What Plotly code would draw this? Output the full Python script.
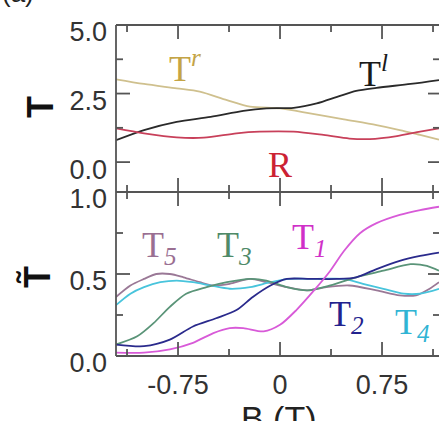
import plotly.graph_objects as go

# ---- data ----
B_top = [-1.206, -1.0, -0.76, -0.59, -0.39, -0.22, 0.0, 0.22, 0.47, 0.71, 0.88, 1.03, 1.169]
T_r = [3.02, 2.85, 2.69, 2.57, 2.26, 2.02, 1.96, 1.78, 1.56, 1.35, 1.17, 0.99, 0.82]
B_l = [-1.206, -1.0, -0.76, -0.51, -0.27, -0.10, 0.10, 0.27, 0.42, 0.56, 0.71, 0.96, 1.169]
T_l = [0.80, 1.17, 1.47, 1.65, 1.87, 1.96, 1.98, 2.14, 2.38, 2.60, 2.71, 2.85, 2.99]
B_R = [-1.206, -1.0, -0.76, -0.56, -0.32, -0.15, 0.10, 0.32, 0.51, 0.66, 0.86, 1.03, 1.169]
R = [1.23, 1.05, 0.90, 0.89, 1.05, 1.11, 1.11, 0.99, 0.86, 0.84, 0.95, 1.11, 1.23]

B5 = [-1.206, -1.1, -1.0, -0.91, -0.81, -0.71, -0.59, -0.49, -0.37, -0.22, -0.10, 0.05, 0.20, 0.34, 0.51, 0.71, 0.88, 1.0, 1.10, 1.169]
T5 = [0.36, 0.43, 0.47, 0.50, 0.50, 0.48, 0.45, 0.43, 0.44, 0.47, 0.45, 0.42, 0.40, 0.42, 0.43, 0.40, 0.37, 0.37, 0.41, 0.45]
B4 = [-1.206, -1.1, -1.0, -0.88, -0.76, -0.64, -0.51, -0.37, -0.22, -0.07, 0.07, 0.27, 0.47, 0.61, 0.76, 0.91, 1.03, 1.169]
T4 = [0.31, 0.38, 0.42, 0.45, 0.46, 0.45, 0.43, 0.41, 0.42, 0.45, 0.47, 0.47, 0.47, 0.44, 0.41, 0.38, 0.38, 0.41]
B3 = [-1.206, -1.05, -0.93, -0.81, -0.69, -0.54, -0.39, -0.22, -0.10, 0.05, 0.20, 0.37, 0.56, 0.76, 0.96, 1.08, 1.169]
T3 = [0.07, 0.12, 0.20, 0.30, 0.38, 0.42, 0.45, 0.47, 0.46, 0.42, 0.40, 0.43, 0.48, 0.52, 0.56, 0.55, 0.52]
B2 = [-1.206, -1.0, -0.81, -0.64, -0.47, -0.32, -0.20, -0.07, 0.05, 0.22, 0.42, 0.56, 0.71, 0.88, 1.03, 1.169]
T2 = [0.07, 0.06, 0.10, 0.18, 0.23, 0.28, 0.36, 0.43, 0.47, 0.47, 0.47, 0.48, 0.53, 0.58, 0.61, 0.63]
B1 = [-1.206, -1.0, -0.81, -0.64, -0.49, -0.37, -0.27, -0.12, 0.0, 0.12, 0.25, 0.37, 0.47, 0.59, 0.71, 0.88, 1.03, 1.169]
T1 = [0.02, 0.02, 0.04, 0.08, 0.14, 0.17, 0.17, 0.15, 0.19, 0.28, 0.40, 0.52, 0.64, 0.75, 0.81, 0.86, 0.89, 0.91]

x_range = [-1.206, 1.169]
top_range = [-1.09, 5.0]
bot_range = [0.0, 1.0]
x_major = [-0.75, 0, 0.75]
x_major_text = ["-0.75", "0", "0.75"]
x_minor = [-1.125, -0.375, 0.375, 1.125]
top_major = [0.0, 2.5, 5.0]
top_major_text = ["0.0", "2.5", "5.0"]
top_minor = [1.25, 3.75]
bot_major = [0.0, 0.5, 1.0]
bot_major_text = ["0.0", "0.5", "1.0"]
bot_minor = [0.25, 0.75]

# ---- styling ----
AX = "#555555"
LW = 1.8
TICKFONT = dict(family="Liberation Sans, Arial", size=27, color="#333333")
SERIF = "Liberation Serif, Times New Roman"
MAJ, MIN = 14, 7
RMAJ, RMIN = 11, 6

fig = go.Figure()

def add(x, y, color, xa, ya, w=1.8):
    fig.add_trace(go.Scatter(x=x, y=y, mode="lines", line=dict(color=color, width=w, shape="spline", smoothing=0.8),
                             xaxis=xa, yaxis=ya, showlegend=False, hoverinfo="skip"))

add(B_top, T_r, "#cfc08e", "x", "y")
add(B_l, T_l, "#2a2a2a", "x", "y")
add(B_R, R, "#c8405a", "x", "y")

add(B5, T5, "#9a7896", "x2", "y2")
add(B4, T4, "#48c4dc", "x2", "y2")
add(B3, T3, "#5a9478", "x2", "y2")
add(B2, T2, "#2a2a8c", "x2", "y2")
add(B1, T1, "#d85ad8", "x2", "y2")

split = 164 / 331

# axes: scales and tick labels
def xaxis(anchor, labels):
    return dict(range=x_range, anchor=anchor, domain=[0, 1], showgrid=False, zeroline=False,
                showline=False, ticks="", tickmode="array", tickvals=x_major, ticktext=x_major_text,
                showticklabels=labels, tickfont=TICKFONT, ticklabelstandoff=10)

def yaxis(rng, dom, major, text, anchor):
    return dict(range=rng, domain=dom, anchor=anchor, showgrid=False, zeroline=False,
                showline=False, ticks="", tickmode="array", tickvals=major, ticktext=text,
                tickfont=TICKFONT, ticklabelstandoff=8, ticklabelshift=7)

fig.update_layout(
    width=439, height=421,
    margin=dict(l=116, r=0, t=25, b=65),
    paper_bgcolor="white", plot_bgcolor="white",
    xaxis=xaxis("y", False),
    yaxis=yaxis(top_range, [split, 1], top_major, top_major_text, "x"),
    xaxis2=xaxis("y2", True),
    yaxis2=yaxis(bot_range, [0, split], bot_major, bot_major_text, "x2"),
)

line_style = dict(color=AX, width=LW)

# frame (left, top, bottom edges of each panel; the right edge lies just beyond the picture)
for xa, ya, edges in [("x", "y", ["left", "top", "bottom"]), ("x2", "y2", ["left", "bottom"])]:
    for e in edges:
        if e == "left":
            fig.add_shape(type="line", xref=f"{xa} domain", yref=f"{ya} domain", x0=0, x1=0, y0=0, y1=1, line=line_style)
        else:
            yy = 1 if e == "top" else 0
            fig.add_shape(type="line", xref=f"{xa} domain", yref=f"{ya} domain", x0=0, x1=1, y0=yy, y1=yy, line=line_style)

# tick marks, placed through the axis scales
def xticks(xa, ya, vals, ln):
    for v in vals:
        fig.add_shape(type="line", xref=xa, yref=f"{ya} domain", x0=v, x1=v,
                      ysizemode="pixel", yanchor=0, y0=0, y1=ln, line=line_style)
        fig.add_shape(type="line", xref=xa, yref=f"{ya} domain", x0=v, x1=v,
                      ysizemode="pixel", yanchor=1, y0=0, y1=-ln, line=line_style)

def yticks(xa, ya, vals, ln, rln):
    for v in vals:
        fig.add_shape(type="line", xref=f"{xa} domain", yref=ya, y0=v, y1=v,
                      xsizemode="pixel", xanchor=0, x0=0, x1=ln, line=line_style)
        fig.add_shape(type="line", xref=f"{xa} domain", yref=ya, y0=v, y1=v,
                      xsizemode="pixel", xanchor=1, x0=0, x1=-rln, line=line_style)

for xa, ya in [("x", "y"), ("x2", "y2")]:
    xticks(xa, ya, x_major, MAJ)
    xticks(xa, ya, x_minor, MIN)
yticks("x", "y", [v for v in top_major if v not in (5.0,)], MAJ, RMAJ)
yticks("x", "y", top_minor, MIN, RMIN)
yticks("x2", "y2", [v for v in bot_major if v not in (0.0, 1.0)], MAJ, RMAJ)
yticks("x2", "y2", bot_minor, MIN, RMIN)

def label(text, x, y, color, xr, yr, size=36, xanchor="left", yanchor="middle"):
    fig.add_annotation(text=text, x=x, y=y, xref=xr, yref=yr, showarrow=False,
                       font=dict(family=SERIF, size=size, color=color), xanchor=xanchor, yanchor=yanchor)

label("T<sup><i>r</i></sup>", -0.83, 3.5, "#c4a446", "x", "y")
label("T<sup><i>l</i></sup>", 0.566, 3.3, "#1a1a1a", "x", "y")
label("R", 0.0, -0.09, "#cc2233", "x", "y", xanchor="center")
label("T<sub><i>5</i></sub>", -1.03, 0.66, "#9a6f92", "x2", "y2")
label("T<sub><i>3</i></sub>", -0.478, 0.66, "#4f8a68", "x2", "y2")
label("T<sub><i>1</i></sub>", 0.074, 0.71, "#d030c8", "x2", "y2")
label("T<sub><i>2</i></sub>", 0.346, 0.24, "#22228e", "x2", "y2")
label("T<sub><i>4</i></sub>", 0.83, 0.19, "#30b4d4", "x2", "y2")

# axis titles
fig.add_annotation(text="<b>T</b>", x=(40 - 116) / 323, y=(356 - 107) / 331, xref="paper", yref="paper",
                   showarrow=False, textangle=-90, font=dict(family="Liberation Sans, Arial", size=36, color="#111"),
                   xanchor="center", yanchor="middle")
fig.add_annotation(text="<b>T\u0303</b>", x=(37 - 116) / 323, y=(356 - 277) / 331, xref="paper", yref="paper",
                   showarrow=False, textangle=-90, font=dict(family="Liberation Sans, Arial", size=36, color="#111"),
                   xanchor="center", yanchor="middle")
fig.add_annotation(text="B (T)", x=(279 - 116) / 323, y=(356 - 397) / 331, xref="paper", yref="paper",
                   showarrow=False, font=dict(family="Liberation Sans, Arial", size=34, color="#222"),
                   xanchor="center", yanchor="top")
fig.add_annotation(text="(a)", x=(0 - 116) / 323, y=(356 - 10) / 331, xref="paper", yref="paper",
                   showarrow=False, font=dict(family="Liberation Sans, Arial", size=26, color="#222"),
                   xanchor="left", yanchor="bottom")

fig.write_html("out.html")
